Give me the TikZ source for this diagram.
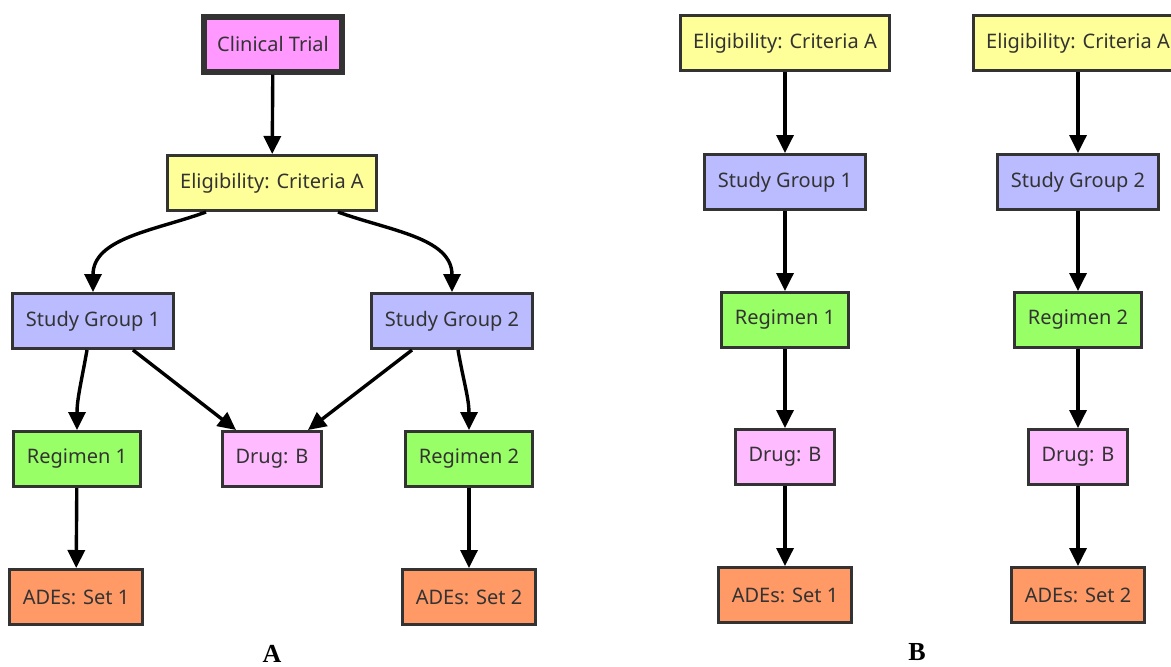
\documentclass[tikz,border=0pt]{standalone}
\usepackage{fontspec}
\setmainfont{Noto Sans}
\newfontfamily\labelfont{Liberation Serif}
\usetikzlibrary{arrows.meta}
\definecolor{rand}{HTML}{333333}
\definecolor{trial}{HTML}{FF99FF}
\definecolor{elig}{HTML}{FFFF99}
\definecolor{gruppe}{HTML}{BBBBFF}
\definecolor{regimen}{HTML}{99FF66}
\definecolor{drug}{HTML}{FFBBFF}
\definecolor{ades}{HTML}{FF9966}
\tikzset{
  box/.style={draw=rand, line width=1.5pt, text=rand, minimum height=27.5pt,
    inner xsep=6.5pt, font=\fontsize{10}{12}\selectfont},
  pfeil/.style={-{Triangle[length=9pt,width=8.5pt]}, line width=1.7pt, black},
  tafel/.style={font=\labelfont\bfseries\fontsize{13}{15}\selectfont}
}
\begin{document}
\begin{tikzpicture}[x=0.5pt,y=-0.5pt]
  \useasboundingbox (0,0) rectangle (1171,666);
  % Teil A
  \node[box, fill=trial, line width=3pt] (trial) at (273,44) {Clinical Trial};
  \node[box, fill=elig] (eligA) at (272,183) {Eligibility: Criteria A};
  \node[box, fill=gruppe] (sg1) at (93,321) {Study Group 1};
  \node[box, fill=gruppe] (sg2) at (452,321) {Study Group 2};
  \node[box, fill=regimen] (reg1) at (77,459) {Regimen 1};
  \node[box, fill=drug] (drugA) at (272,459) {Drug: B};
  \node[box, fill=regimen] (reg2) at (469,459) {Regimen 2};
  \node[box, fill=ades] (ade1) at (76,597) {ADEs: Set 1};
  \node[box, fill=ades] (ade2) at (469,597) {ADEs: Set 2};
  \node[tafel] (labA) at (272,654) {A};
  % Verbindungen A
  \draw[pfeil] (trial) -- (eligA);
  \draw[pfeil] ([xshift=-33pt]eligA.south) to[out=200,in=90] (sg1.north);
  \draw[pfeil] ([xshift=33pt]eligA.south) to[out=-20,in=90] (sg2.north);
  \draw[pfeil] ([xshift=-3pt]sg1.south) to[out=-100,in=90] (reg1.north);
  \draw[pfeil] ([xshift=20pt]sg1.south) -- ([xshift=-18pt]drugA.north);
  \draw[pfeil] ([xshift=-20pt]sg2.south) -- ([xshift=18pt]drugA.north);
  \draw[pfeil] ([xshift=3pt]sg2.south) to[out=-80,in=90] (reg2.north);
  \draw[pfeil] (reg1) -- (ade1);
  \draw[pfeil] (reg2) -- (ade2);
  % Teil B, linke Spalte
  \node[box, fill=elig] (eligB1) at (785,43) {Eligibility: Criteria A};
  \node[box, fill=gruppe] (sgB1) at (785,182) {Study Group 1};
  \node[box, fill=regimen] (regB1) at (785,320) {Regimen 1};
  \node[box, fill=drug] (drugB1) at (785,457) {Drug: B};
  \node[box, fill=ades] (adeB1) at (785,595) {ADEs: Set 1};
  % Teil B, rechte Spalte
  \node[box, fill=elig] (eligB2) at (1078,43) {Eligibility: Criteria A};
  \node[box, fill=gruppe] (sgB2) at (1078,182) {Study Group 2};
  \node[box, fill=regimen] (regB2) at (1078,320) {Regimen 2};
  \node[box, fill=drug] (drugB2) at (1078,457) {Drug: B};
  \node[box, fill=ades] (adeB2) at (1078,595) {ADEs: Set 2};
  \node[tafel] (labB) at (917,652) {B};
  % Verbindungen B
  \draw[pfeil] (eligB1) -- (sgB1);
  \draw[pfeil] (sgB1) -- (regB1);
  \draw[pfeil] (regB1) -- (drugB1);
  \draw[pfeil] (drugB1) -- (adeB1);
  \draw[pfeil] (eligB2) -- (sgB2);
  \draw[pfeil] (sgB2) -- (regB2);
  \draw[pfeil] (regB2) -- (drugB2);
  \draw[pfeil] (drugB2) -- (adeB2);
\end{tikzpicture}
\end{document}
